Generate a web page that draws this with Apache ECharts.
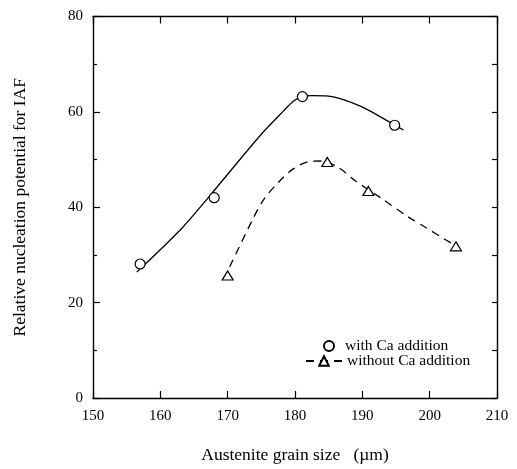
<!DOCTYPE html>
<html>
<head>
<meta charset="utf-8">
<script src="https://cdn.jsdelivr.net/npm/echarts@6/dist/echarts.min.js"></script>
<style>
  html, body { margin: 0; padding: 0; background: #fff; }
  #chart { width: 517px; height: 469px; }
</style>
</head>
<body>
<div id="chart"></div>
<script>
// Measured points: austenite grain size (µm) vs relative nucleation potential for IAF
const withCaSize = [157, 168, 181.1, 194.8];
const withCaPotential = [28.1, 42.0, 63.2, 57.2];
const withoutCaSize = [170, 184.8, 190.9, 203.9];
const withoutCaPotential = [25.7, 49.5, 43.4, 31.8];

// Hand-drawn trend curves through each data set
const withCurveSize = [156.5, 163.2, 167.4, 174.8, 178.3, 179.8, 181.1, 182.5, 185, 189.7, 194.1, 196.1];
const withCurvePotential = [26.4, 35.6, 42.5, 55.0, 60.2, 62.3, 63.2, 63.4, 63.3, 61.2, 57.8, 56.2];
const withoutCurveSize = [170.3, 173.8, 175.3, 177.3, 179.8, 182.2, 184.0, 186.5, 188.9, 192.9, 196.8, 199.6, 202.0, 203.3];
const withoutCurvePotential = [27.5, 37.7, 41.5, 44.9, 48.1, 49.6, 49.7, 48.3, 45.6, 41.8, 38.0, 35.6, 33.5, 32.4];

// Axis ticks
const xTicks = [150, 160, 170, 180, 190, 200, 210];
const yTicks = [0, 20, 40, 60, 80];

const FONT = '"Liberation Serif", "DejaVu Serif", serif';
const zip = (xs, ys) => xs.map((x, i) => [x, ys[i]]);

const chart = echarts.init(document.getElementById('chart'), null, { renderer: 'canvas' });

const axisLine = { show: true, onZero: false, lineStyle: { color: '#000', width: 1.4 } };

chart.setOption({
  animation: false,
  backgroundColor: '#fff',
  grid: { left: 93, top: 16.5, right: 20, bottom: 68, containLabel: false },
  xAxis: [
    {
      type: 'value', position: 'bottom',
      min: xTicks[0], max: xTicks[xTicks.length - 1], interval: 10,
      name: 'Austenite grain size   (\u00b5m)', nameLocation: 'middle', nameGap: 48,
      nameMoveOverlap: false,
      nameTextStyle: { fontFamily: FONT, fontSize: 17.5, color: '#000' },
      axisLine: axisLine,
      axisTick: { show: true, inside: true, length: 7, lineStyle: { color: '#000', width: 1.2 } },
      axisLabel: { fontFamily: FONT, fontSize: 15, color: '#000', margin: 11 },
      splitLine: { show: false }
    },
    {
      type: 'value', position: 'top',
      min: xTicks[0], max: xTicks[xTicks.length - 1], interval: 10,
      axisLine: axisLine,
      axisTick: { show: true, inside: true, length: 7, lineStyle: { color: '#000', width: 1.2 } },
      axisLabel: { show: false },
      splitLine: { show: false }
    }
  ],
  yAxis: [
    {
      type: 'value', position: 'left',
      min: yTicks[0], max: yTicks[yTicks.length - 1], interval: 20,
      name: 'Relative nucleation potential for IAF', nameLocation: 'middle', nameGap: 64,
      nameTextStyle: { fontFamily: FONT, fontSize: 17.5, color: '#000' },
      axisLine: axisLine,
      axisTick: { show: true, inside: true, length: 7, lineStyle: { color: '#000', width: 1.2 } },
      minorTick: { show: true, splitNumber: 2, length: 4, lineStyle: { color: '#000', width: 1.2 } },
      axisLabel: { fontFamily: FONT, fontSize: 15, color: '#000', margin: 10 },
      splitLine: { show: false }
    },
    {
      type: 'value', position: 'right',
      min: yTicks[0], max: yTicks[yTicks.length - 1], interval: 10,
      axisLine: axisLine,
      axisTick: { show: true, inside: true, length: 5, lineStyle: { color: '#000', width: 1.2 } },
      axisLabel: { show: false },
      splitLine: { show: false }
    }
  ],
  legend: [
    {
      data: ['with Ca addition'],
      left: 323, top: 338, padding: 0,
      itemWidth: 22, itemHeight: 10,
      textStyle: { fontFamily: FONT, fontSize: 15.5, color: '#000' },
      selectedMode: false
    },
    {
      data: ['without Ca addition'],
      left: 305, top: 353, padding: 0,
      itemWidth: 36, itemHeight: 12,
      textStyle: { fontFamily: FONT, fontSize: 15.5, color: '#000' },
      selectedMode: false
    }
  ],
  series: [
    {
      name: 'with Ca trend', type: 'line', smooth: 0.3,
      data: zip(withCurveSize, withCurvePotential),
      showSymbol: false, symbol: 'none',
      lineStyle: { color: '#000', width: 1.3 },
      z: 2
    },
    {
      name: 'without Ca addition', type: 'line', smooth: 0.3,
      data: zip(withoutCurveSize, withoutCurvePotential),
      showSymbol: false, symbol: 'triangle',
      itemStyle: { color: '#fff', borderColor: '#000', borderWidth: 1.2 },
      lineStyle: { color: '#000', width: 1.3, type: [8, 6] },
      z: 2
    },
    {
      name: 'with Ca addition', type: 'scatter',
      data: zip(withCaSize, withCaPotential),
      symbol: 'circle', symbolSize: 10,
      itemStyle: { color: '#fff', borderColor: '#000', borderWidth: 1.2, opacity: 1 },
      z: 3
    },
    {
      name: 'without Ca points', type: 'scatter',
      data: zip(withoutCaSize, withoutCaPotential),
      symbol: 'triangle', symbolSize: [11, 9],
      itemStyle: { color: '#fff', borderColor: '#000', borderWidth: 1.2, opacity: 1 },
      z: 3
    }
  ]
});
</script>
</body>
</html>
